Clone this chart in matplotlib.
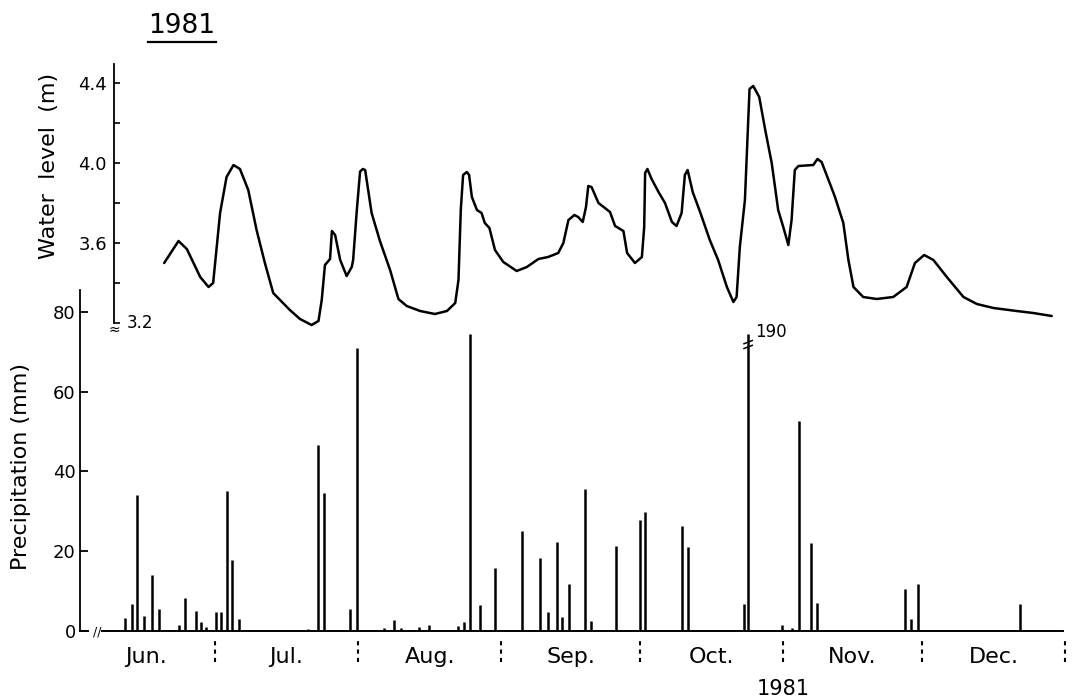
import numpy as np
import matplotlib.pyplot as plt
from matplotlib.lines import Line2D

plt.rcParams['font.family'] = ['DejaVu Sans']

# daily precipitation (mm), day counted from 1 June 1981
prcp_day = [10.5, 12.0, 13.2, 14.6, 16.3, 17.9, 22.1, 23.5, 25.8, 27.0, 28.0,
            30.2, 31.3, 32.5, 33.7, 35.3, 50.2, 52.4, 53.6, 59.3, 60.7,
            66.6, 68.7, 70.2, 74.2, 76.3, 81.2, 82.7, 83.9, 85.2, 87.4,
            90.6, 96.4, 100.3, 102.1, 104.0, 105.2, 106.6, 110.1, 111.4, 116.9,
            122.0, 123.1, 131.1, 132.4, 144.5, 145.4, 152.7, 155.0, 156.4, 158.9,
            160.4, 179.4, 180.7, 182.1, 204.2]
prcp_mm = [3.3, 6.7, 34, 3.8, 14, 5.4, 1.5, 8.2, 5.0, 2.2, 1.0,
           4.7, 4.8, 35, 17.8, 2.9, 0.5, 46.5, 34.7, 5.4, 71,
           0.8, 2.8, 0.8, 0.9, 1.5, 0.3, 1.3, 2.2, 77.5, 6.5,
           15.7, 25.1, 18.2, 4.8, 22.4, 3.4, 11.8, 35.5, 2.6, 21.4,
           27.7, 29.7, 26.4, 21, 6.8, 190, 1.5, 0.7, 52.7, 22.1,
           7.1, 10.5, 2.9, 11.8, 6.7]

# water level (m) trace
wl_day = [19.0, 22.1, 23.9, 26.8, 28.6, 29.6, 31.1, 32.5, 34.0, 35.4, 37.2,
          39.0, 40.8, 42.6, 46.2, 48.4, 50.9, 52.4, 53.1, 53.8, 54.9, 55.3,
          56.0, 57.1, 58.5, 59.6, 59.9, 60.7, 61.4, 62.0, 62.5, 63.9, 65.7,
          67.9, 69.7, 71.5, 74.4, 77.6, 80.2, 82.0, 82.7, 83.2, 83.7, 84.5,
          85.0, 85.6, 86.7, 87.7, 88.4, 89.4, 90.6, 92.4, 95.3, 97.5, 100.0,
          102.1, 104.3, 105.4, 106.5, 107.8, 108.6, 109.6, 110.3, 110.8, 111.5,
          113.0, 114.4, 115.5, 116.6, 118.4, 119.2, 120.9, 122.4, 122.9, 123.1,
          123.6, 124.5, 126.0, 127.4, 128.9, 129.9, 131.0, 131.7, 132.3, 133.4,
          135.0, 137.1, 138.9, 140.8, 142.2, 142.9, 143.6, 144.7, 145.7, 146.5,
          147.8, 149.1, 150.5, 151.9, 153.0, 154.1, 154.8, 155.5, 156.3, 159.5,
          160.4, 161.3, 162.8, 164.2, 166.0, 167.1, 168.2, 170.3, 173.2, 176.8,
          179.7, 181.5, 183.5, 185.5, 188.4, 192.0, 194.9, 198.5, 203.5, 207.1,
          211.1]
wl_m = [3.50, 3.61, 3.57, 3.43, 3.38, 3.40, 3.75, 3.93, 3.99, 3.97, 3.865,
        3.665, 3.50, 3.35, 3.265, 3.22, 3.19, 3.21, 3.315, 3.49, 3.52, 3.66,
        3.64, 3.515, 3.435, 3.48, 3.515, 3.765, 3.957, 3.97, 3.965, 3.75, 3.61,
        3.465, 3.32, 3.285, 3.26, 3.245, 3.26, 3.30, 3.415, 3.765, 3.94, 3.955,
        3.94, 3.83, 3.765, 3.75, 3.70, 3.675, 3.565, 3.505, 3.46, 3.48, 3.52,
        3.53, 3.55, 3.60, 3.715, 3.74, 3.73, 3.705, 3.78, 3.885, 3.88,
        3.80, 3.775, 3.755, 3.685, 3.66, 3.55, 3.50, 3.53, 3.68, 3.95,
        3.97, 3.92, 3.855, 3.80, 3.705, 3.685, 3.75, 3.94, 3.965, 3.855,
        3.755, 3.615, 3.515, 3.38, 3.305, 3.33, 3.58, 3.815, 4.37, 4.385,
        4.33, 4.165, 4.00, 3.765, 3.68, 3.59, 3.715, 3.965, 3.985, 3.99,
        4.02, 4.005, 3.915, 3.83, 3.70, 3.515, 3.38, 3.33, 3.32, 3.33,
        3.38, 3.50, 3.54, 3.515, 3.43, 3.33, 3.295, 3.275, 3.26, 3.25,
        3.235]

months = ['Jun.', 'Jul.', 'Aug.', 'Sep.', 'Oct.', 'Nov.', 'Dec.']
month_len = [30, 31, 31, 30, 31, 30, 31]
bounds = np.concatenate([[0], np.cumsum(month_len)])
mids = (bounds[:-1] + bounds[1:]) / 2

# sheet layout (pixels)
W, H = 1072, 700
X0, PXD = 76.4, 4.62
def day_at(px):
    return (px - X0) / PXD

left, right = 80, 1070
CAP = 74.5  # drawn height of the off-scale bar

fig = plt.figure(figsize=(W / 100, H / 100), dpi=100)

# precipitation panel
ax = fig.add_axes([left / W, (H - 631) / H, (right - left) / W, (631 - 290) / H])
ax.set_xlim(day_at(left), day_at(right))
ax.set_ylim(0, (631 - 290) / 3.99)
for s in ['top', 'right', 'bottom']:
    ax.spines[s].set_visible(False)
ax.spines['left'].set_linewidth(1.3)
ax.set_xticks([])
ax.set_yticks([0, 20, 40, 60, 80])
ax.tick_params(axis='y', direction='in', length=6, width=1.3, pad=3, labelsize=13)

shown = np.minimum(prcp_mm, CAP)
ax.vlines(prcp_day, 0, shown, colors='black', lw=1.8)

# baseline with break
ax.plot([day_at(left), day_at(88)], [0, 0], color='black', lw=1.4, clip_on=False)
ax.plot([day_at(102), day_at(1063)], [0, 0], color='black', lw=1.4, clip_on=False)
ax.text(day_at(97), -0.3, '//', ha='center', va='center', fontsize=9)

# off-scale bar marker
big = int(np.argmax(prcp_mm))
bd = prcp_day[big]
for yc in (72.4, 71.2):
    ax.plot([bd - 0.9, bd + 0.9], [yc - 0.4, yc + 0.4], color='black', lw=1.1)
ax.text(bd + 1.6, 73.7, f'{prcp_mm[big]:.0f}', ha='left', va='baseline', fontsize=12)

# month separators and labels
ax.vlines(bounds[1:], -7.8, -1.75, colors='black', lw=1.5,
          linestyles=(0, (2, 2)), clip_on=False)
for m, x in zip(months, mids):
    ax.text(x, -8.0, m, ha='center', va='baseline', fontsize=16)
ax.text(bounds[5], -16.0, '1981', ha='center', va='baseline', fontsize=15)

# water level panel
ax2 = fig.add_axes([left / W, (H - 340) / H, (right - left) / W, (340 - 64) / H])
ax2.patch.set_visible(False)
ax2.set_xlim(day_at(left), day_at(right))
ax2.set_ylim(3.2 - (340 - 323) / 200, 3.2 + (323 - 64) / 200)
for s in ['top', 'right', 'bottom']:
    ax2.spines[s].set_visible(False)
ax2.spines['left'].set_position(('data', day_at(114)))
ax2.spines['left'].set_bounds(3.2, 3.2 + (323 - 64) / 200)
ax2.spines['left'].set_linewidth(1.3)
ax2.set_xticks([])
ax2.set_yticks([3.6, 4.0, 4.4])
ax2.set_yticklabels(['3.6', '4.0', '4.4'])
ax2.set_yticks([3.2, 3.4, 3.8, 4.2], minor=True)
ax2.tick_params(axis='y', which='both', direction='in', length=4, width=1.2,
                pad=5, labelsize=13)
ax2.plot(wl_day, wl_m, color='black', lw=1.8, clip_on=False,
         solid_joinstyle='round', solid_capstyle='round')
ax2.text(day_at(127), 3.2, '3.2', ha='left', va='center', fontsize=12)
ax2.text(day_at(114), 3.168, '≈', ha='center', va='center', fontsize=10)

# axis titles and heading
fig.text(21 / W, 1 - 467 / H, 'Precipitation (mm)', rotation=90,
         ha='center', va='center', fontsize=16)
fig.text(49 / W, 1 - 166 / H, 'Water  level  (m)', rotation=90,
         ha='center', va='center', fontsize=16)
fig.text(182 / W, 1 - 33 / H, '1981', ha='center', va='baseline', fontsize=19)
fig.add_artist(Line2D([148 / W, 216 / W], [1 - 42 / H, 1 - 42 / H],
                      color='black', lw=1.6))

fig.savefig('out.png', dpi=100)
